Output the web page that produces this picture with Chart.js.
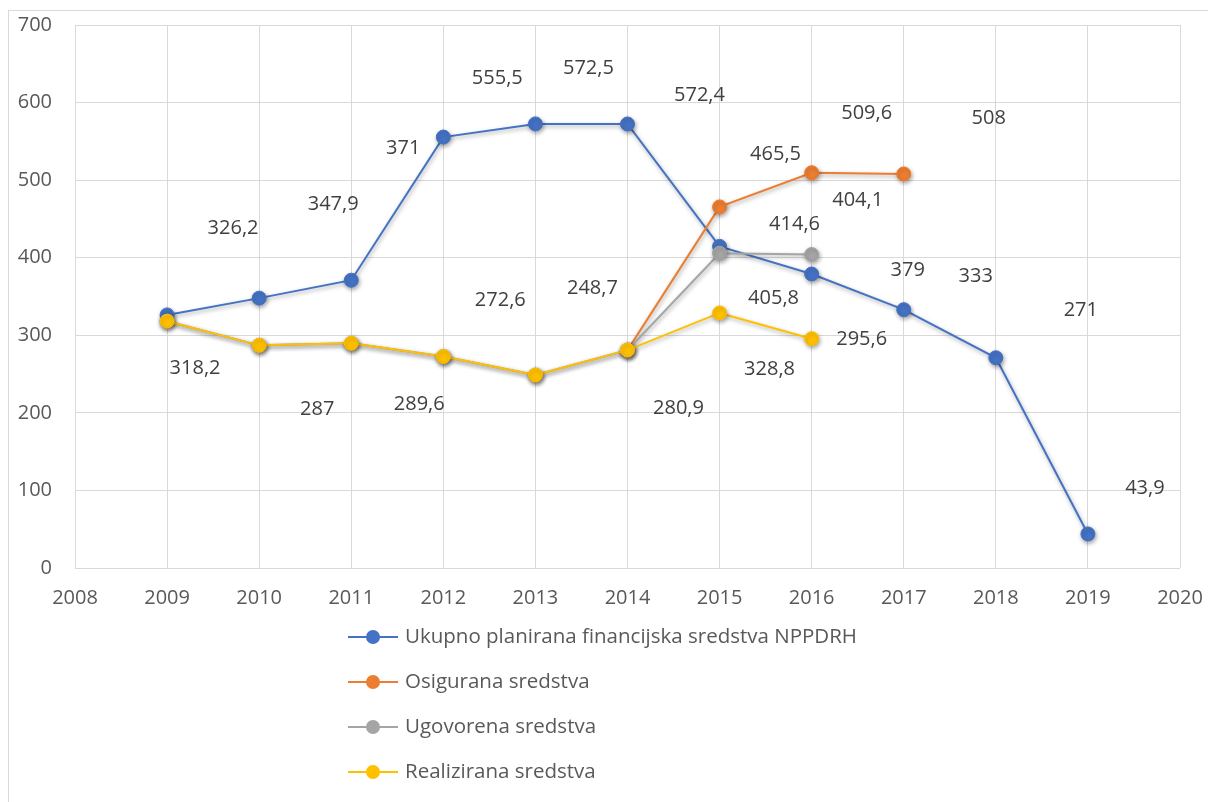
<!DOCTYPE html>
<html>
<head>
<meta charset="utf-8">
<script src="https://cdn.jsdelivr.net/npm/chart.js@4"></script>
<style>
  html, body { margin: 0; padding: 0; background: #fff; }
  #wrap { width: 1208px; height: 802px; }
</style>
</head>
<body>
<div id="wrap"><canvas id="chart"></canvas></div>
<script>
// podaci
const years = [2009, 2010, 2011, 2012, 2013, 2014, 2015, 2016, 2017, 2018, 2019];
const ukupno = [326.2, 347.9, 371, 555.5, 572.5, 572.4, 414.6, 379, 333, 271, 43.9];
const osigurana = [null, null, null, null, null, 280.9, 465.5, 509.6, 508, null, null];
const ugovorena = [318.2, 287, 289.6, 272.6, 248.7, 280.9, 405.8, 404.1, null, null, null];
const realizirana = [318.2, 287, 289.6, 272.6, 248.7, 280.9, 328.8, 295.6, null, null, null];
const seriesNames = [
  'Ukupno planirana financijska sredstva NPPDRH',
  'Osigurana sredstva',
  'Ugovorena sredstva',
  'Realizirana sredstva'
];
const yTicks = [0, 100, 200, 300, 400, 500, 600, 700];
const xTicks = [2008, 2009, 2010, 2011, 2012, 2013, 2014, 2015, 2016, 2017, 2018, 2019, 2020];

// pomaci oznaka podataka (px od točke), null = bez oznake
const labelOffsets = [
  [[66, -87], [74, -94], [52, -132], [54, -59], [53, -56], [72, -29], [75, -22], [96, -4], [72, -33], [85, -47], [57, -46]],
  [null, null, null, null, null, null, [56, -53], [55, -59], [85, -56], null, null],
  [null, null, null, null, null, null, [54, 45], [46, -54], null, null, null],
  [[28, 47], [58, 64], [68, 61], [57, -56], [57, -87], [51, 58], [50, 56], [50, 1], null, null, null]
];

const colors = ['#4472C4', '#ED7D31', '#A5A5A5', '#FFC000'];
const FONT = '"Open Sans", "Liberation Sans", sans-serif';

function toPoints(values) {
  return years.map((y, i) => ({ x: y, y: values[i] }));
}

function makeDataset(i, values) {
  return {
    label: seriesNames[i],
    data: toPoints(values),
    borderColor: colors[i],
    backgroundColor: colors[i],
    pointBackgroundColor: colors[i],
    pointBorderColor: colors[i],
    borderWidth: 2,
    pointRadius: 7,
    pointBorderWidth: 1,
    tension: 0,
    order: 4 - i
  };
}

// sjena ispod linija i točaka
const shadowPlugin = {
  id: 'shadow',
  beforeDatasetDraw(chart) {
    const ctx = chart.ctx;
    ctx.save();
    ctx.shadowColor = 'rgba(0, 0, 0, 0.35)';
    ctx.shadowBlur = 4;
    ctx.shadowOffsetX = 1;
    ctx.shadowOffsetY = 2;
  },
  afterDatasetDraw(chart) {
    chart.ctx.restore();
  }
};

// okvir, oznake i legenda
const decorPlugin = {
  id: 'decor',
  beforeDraw(chart) {
    const ctx = chart.ctx;
    ctx.save();
    ctx.fillStyle = '#fff';
    ctx.fillRect(0, 0, chart.width, chart.height);
    ctx.strokeStyle = '#d9d9d9';
    ctx.lineWidth = 1;
    ctx.strokeRect(8.5, 10.5, chart.width + 10, chart.height + 10);
    ctx.restore();
  },
  afterDatasetsDraw(chart) {
    const ctx = chart.ctx;
    const xs = chart.scales.x;
    const ys = chart.scales.y;
    ctx.save();
    ctx.font = '20px ' + FONT;
    ctx.fillStyle = '#404040';
    ctx.textAlign = 'center';
    ctx.textBaseline = 'middle';
    chart.data.datasets.forEach((ds, di) => {
      ds.data.forEach((p, pi) => {
        const off = labelOffsets[di][pi];
        if (p.y == null || !off) return;
        const px = xs.getPixelForValue(p.x) + off[0];
        const py = ys.getPixelForValue(p.y) + off[1];
        ctx.fillText(String(p.y).replace('.', ','), px, py);
      });
    });
    ctx.restore();
  },
  afterDraw(chart) {
    const ctx = chart.ctx;
    ctx.save();
    ctx.font = '20.5px ' + FONT;
    ctx.textBaseline = 'middle';
    ctx.textAlign = 'left';
    seriesNames.forEach((name, i) => {
      const y = 637 + i * 45;
      ctx.strokeStyle = colors[i];
      ctx.lineWidth = 2;
      ctx.beginPath();
      ctx.moveTo(348, y);
      ctx.lineTo(398, y);
      ctx.stroke();
      ctx.fillStyle = colors[i];
      ctx.beginPath();
      ctx.arc(373, y, 7, 0, Math.PI * 2);
      ctx.fill();
      ctx.fillStyle = '#595959';
      ctx.fillText(name, 405, y);
    });
    ctx.restore();
  }
};

new Chart(document.getElementById('chart'), {
  type: 'line',
  data: {
    datasets: [
      makeDataset(0, ukupno),
      makeDataset(1, osigurana),
      makeDataset(2, ugovorena),
      makeDataset(3, realizirana)
    ]
  },
  options: {
    responsive: true,
    maintainAspectRatio: false,
    animation: false,
    layout: {
      padding: { left: 0, top: 25, right: 28, bottom: 0 }
    },
    scales: {
      x: {
        type: 'linear',
        min: 2008,
        max: 2020,
        afterFit(scale) {
          scale.height = 234;
          scale.paddingLeft = 0;
          scale.paddingRight = 0;
        },
        afterBuildTicks(scale) { scale.ticks = xTicks.map(v => ({ value: v })); },
        border: { display: false },
        grid: { color: '#d9d9d9', lineWidth: 1, drawTicks: false, tickLength: 0 },
        ticks: {
          padding: 18,
          color: '#595959',
          font: { family: FONT, size: 20 },
          callback: v => String(v)
        }
      },
      y: {
        min: 0,
        max: 700,
        afterFit(scale) {
          scale.width = 75;
          scale.paddingTop = 0;
          scale.paddingBottom = 0;
        },
        afterBuildTicks(scale) { scale.ticks = yTicks.map(v => ({ value: v })); },
        border: { display: false },
        grid: { color: '#d9d9d9', lineWidth: 1, drawTicks: false, tickLength: 0 },
        ticks: {
          padding: 23,
          color: '#595959',
          font: { family: FONT, size: 20 },
          callback: v => String(v)
        }
      }
    },
    plugins: {
      legend: { display: false },
      tooltip: { enabled: false }
    }
  },
  plugins: [shadowPlugin, decorPlugin]
});
</script>
</body>
</html>
